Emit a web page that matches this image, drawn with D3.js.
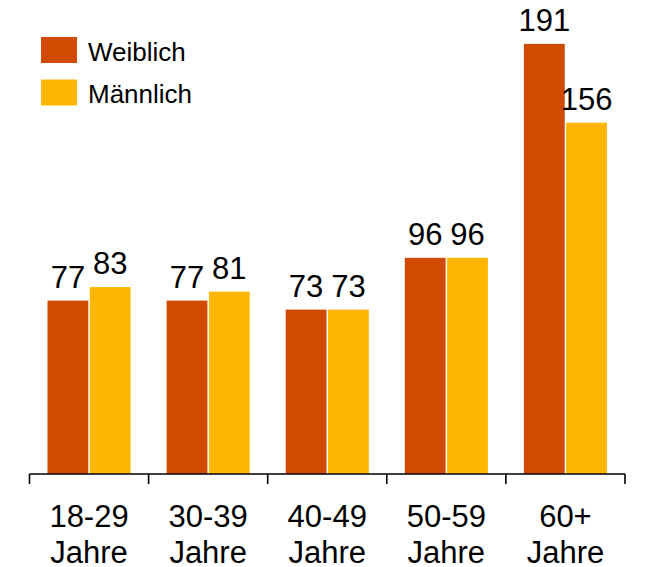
<!DOCTYPE html>
<html><head><meta charset="utf-8">
<script src="https://cdn.jsdelivr.net/npm/d3@7"></script>
<style>body{margin:0;background:#fff}svg{display:block}text{font-family:Arial,"Liberation Sans",sans-serif;fill:#000}</style>
</head><body>
<svg id="c" width="646" height="567"></svg>
<script>
const categories = ["18-29 Jahre","30-39 Jahre","40-49 Jahre","50-59 Jahre","60+ Jahre"];
const series = ["Weiblich","Männlich"];
const weiblich = [77,77,73,96,191];
const maennlich = [83,81,73,96,156];
const colors = ["#D04A02","#FFB600"];

const svg = d3.select("#c");
const x = d3.scaleBand().domain(categories).range([29.5,625]).padding(0);
const xs = d3.scaleBand().domain(series).range([18, x.bandwidth()-18]).paddingInner(0.035);
const y = d3.scaleLinear().domain([0,200]).range([474, 474-200*2.252]);
const vals = [weiblich, maennlich];

series.forEach((s,si)=>{
  svg.append("g").selectAll("rect").data(categories).join("rect")
    .attr("x", c=>x(c)+xs(s)).attr("width", xs.bandwidth())
    .attr("y", (c,i)=>y(vals[si][i])).attr("height",(c,i)=>y(0)-y(vals[si][i]))
    .attr("fill", colors[si]);
  svg.append("g").selectAll("text").data(categories).join("text")
    .attr("x", c=>x(c)+xs(s)+xs.bandwidth()/2)
    .attr("y", (c,i)=>y(vals[si][i])-13)
    .attr("text-anchor","middle").attr("font-size",31)
    .text((c,i)=>vals[si][i]);
});

// axis
const ax = svg.append("g");
ax.append("line").attr("x1",x.range()[0]).attr("x2",x.range()[1]).attr("y1",y(0)).attr("y2",y(0))
  .attr("stroke","#000").attr("stroke-width",1.6);
const bounds = categories.map(c=>x(c)).concat([x.range()[1]]);
ax.selectAll(".tk").data(bounds).join("line").attr("x1",d=>d).attr("x2",d=>d)
  .attr("y1",y(0)).attr("y2",y(0)+10).attr("stroke","#000").attr("stroke-width",1.6);
const lab = ax.selectAll(".lb").data(categories).join("text")
  .attr("text-anchor","middle").attr("font-size",31);
lab.each(function(c){
  const parts = c.split(" ");
  const t = d3.select(this);
  parts.forEach((p,k)=>t.append("tspan").attr("x",x(c)+x.bandwidth()/2).attr("y",527+k*36).text(p));
});

// legend
const lg = svg.append("g");
series.forEach((s,i)=>{
  lg.append("rect").attr("x",41).attr("y",37+i*42.5).attr("width",36).attr("height",26).attr("fill",colors[i]);
  lg.append("text").attr("x",88).attr("y",60.5+i*42.5).attr("font-size",26).text(s);
});
</script>
</body></html>
